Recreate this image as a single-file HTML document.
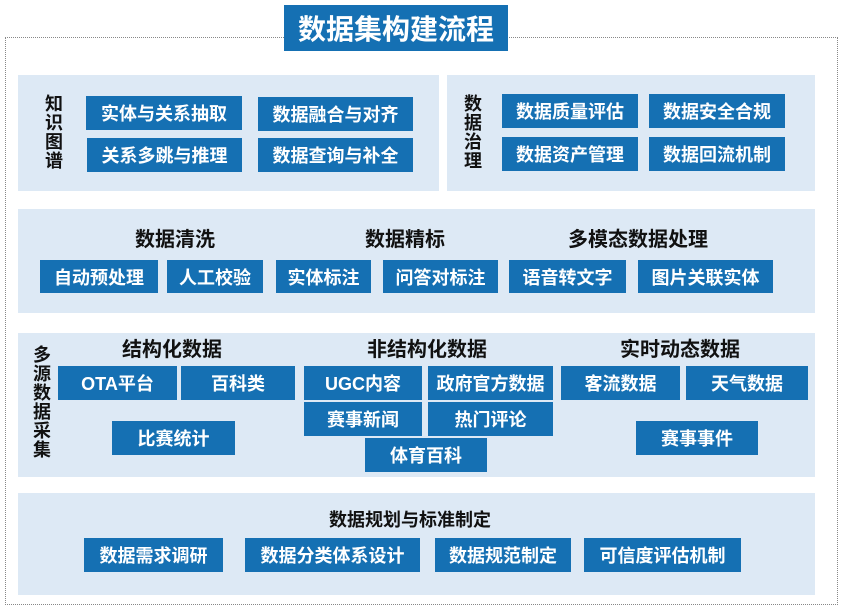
<!DOCTYPE html>
<html><head><meta charset="utf-8"><style>
*{margin:0;padding:0;box-sizing:border-box}
body{width:846px;height:615px;background:#fff;position:relative;overflow:hidden;font-family:"Liberation Sans","Noto Sans CJK SC",sans-serif;font-weight:bold}
.a{position:absolute}
.frame{left:5px;top:37px;width:833px;height:568px;border:1px dotted #888}
.p{background:#dde9f5}
.b{position:absolute;background:#1570b3;color:#fff;font-size:18px;display:flex;align-items:center;justify-content:center;white-space:nowrap}
.h{position:absolute;font-size:20px;color:#111;transform:translateX(-50%);white-space:nowrap}
.v{position:absolute;font-size:18px;color:#111;width:20px;line-height:19px;text-align:center}
.t{left:284px;top:5px;width:224px;height:46px;background:#1570b3;color:#fff;font-size:28px;display:flex;align-items:center;justify-content:center}
</style></head><body>
<div class="a frame"></div>
<div class="a t">数据集构建流程</div>

<div class="a p" style="left:18px;top:75px;width:421px;height:116px"></div>
<div class="a p" style="left:447px;top:75px;width:368px;height:116px"></div>
<div class="a p" style="left:18px;top:209px;width:797px;height:104px"></div>
<div class="a p" style="left:18px;top:333px;width:797px;height:144px"></div>
<div class="a p" style="left:18px;top:493px;width:797px;height:102px"></div>

<div class="v" style="left:44px;top:95px">知识图谱</div>
<div class="b" style="left:86px;top:96px;width:156px;height:34px">实体与关系抽取</div>
<div class="b" style="left:258px;top:97px;width:155px;height:34px">数据融合与对齐</div>
<div class="b" style="left:87px;top:138px;width:155px;height:34px">关系多跳与推理</div>
<div class="b" style="left:258px;top:138px;width:155px;height:34px">数据查询与补全</div>

<div class="v" style="left:463px;top:95px">数据治理</div>
<div class="b" style="left:502px;top:94px;width:136px;height:34px">数据质量评估</div>
<div class="b" style="left:649px;top:94px;width:136px;height:34px">数据安全合规</div>
<div class="b" style="left:502px;top:137px;width:136px;height:34px">数据资产管理</div>
<div class="b" style="left:649px;top:137px;width:136px;height:34px">数据回流机制</div>

<div class="h" style="left:175px;top:223px">数据清洗</div>
<div class="h" style="left:405px;top:223px">数据精标</div>
<div class="h" style="left:638px;top:223px">多模态数据处理</div>
<div class="b" style="left:40px;top:260px;width:118px;height:33px">自动预处理</div>
<div class="b" style="left:167px;top:260px;width:96px;height:33px">人工校验</div>
<div class="b" style="left:276px;top:260px;width:95px;height:33px">实体标注</div>
<div class="b" style="left:383px;top:260px;width:115px;height:33px">问答对标注</div>
<div class="b" style="left:509px;top:260px;width:117px;height:33px">语音转文字</div>
<div class="b" style="left:638px;top:260px;width:135px;height:33px">图片关联实体</div>

<div class="v" style="left:32px;top:346px">多源数据采集</div>
<div class="h" style="left:172px;top:333px">结构化数据</div>
<div class="h" style="left:427px;top:333px">非结构化数据</div>
<div class="h" style="left:680px;top:333px">实时动态数据</div>
<div class="b" style="left:58px;top:366px;width:119px;height:34px">OTA平台</div>
<div class="b" style="left:181px;top:366px;width:114px;height:34px">百科类</div>
<div class="b" style="left:112px;top:421px;width:123px;height:34px">比赛统计</div>
<div class="b" style="left:304px;top:366px;width:118px;height:34px">UGC内容</div>
<div class="b" style="left:428px;top:366px;width:125px;height:34px">政府官方数据</div>
<div class="b" style="left:304px;top:402px;width:118px;height:34px">赛事新闻</div>
<div class="b" style="left:428px;top:402px;width:125px;height:34px">热门评论</div>
<div class="b" style="left:365px;top:438px;width:122px;height:34px">体育百科</div>
<div class="b" style="left:561px;top:366px;width:119px;height:34px">客流数据</div>
<div class="b" style="left:686px;top:366px;width:122px;height:34px">天气数据</div>
<div class="b" style="left:636px;top:421px;width:122px;height:34px">赛事事件</div>

<div class="h" style="left:410px;top:506px;font-size:18px">数据规划与标准制定</div>
<div class="b" style="left:84px;top:538px;width:139px;height:34px">数据需求调研</div>
<div class="b" style="left:245px;top:538px;width:175px;height:34px">数据分类体系设计</div>
<div class="b" style="left:435px;top:538px;width:136px;height:34px">数据规范制定</div>
<div class="b" style="left:584px;top:538px;width:157px;height:34px">可信度评估机制</div>
</body></html>
